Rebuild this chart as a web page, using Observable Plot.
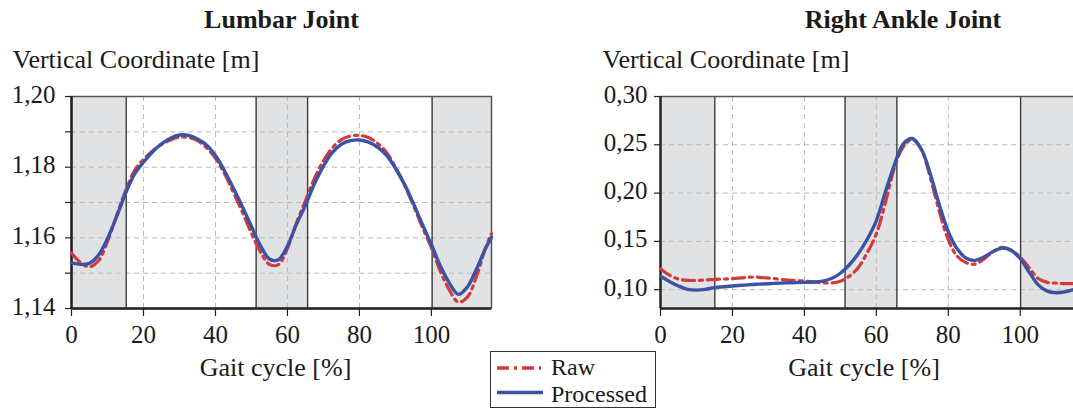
<!DOCTYPE html>
<html><head><meta charset="utf-8">
<script src="https://cdn.jsdelivr.net/npm/d3@7"></script>
<script src="https://cdn.jsdelivr.net/npm/@observablehq/plot@0.6"></script>
<style>
body{margin:0;background:#fff;}
#wrap{position:relative;width:1073px;height:409px;overflow:hidden;font-family:"Liberation Serif","Times New Roman",serif;color:#1a1a1a;background:#fff;}
#wrap > svg{position:absolute;top:0;}
#legend{position:absolute;left:490px;top:351px;width:166px;height:57px;border:1.5px solid #333;box-sizing:border-box;background:#fff;}
#legend svg{position:absolute;left:0;top:0;}
</style></head><body><div id="wrap"></div>
<script>
// ---------- Lumbar Joint ----------
const lumbarX = [0,2.5,5,7.5,10,12.5,15,17.5,20,22.5,25,27.5,30,32.5,35,37.5,40,42.5,45,47.5,50,52.5,55,57.5,60,62.5,65,67.5,70,72.5,75,77.5,80,82.5,85,87.5,90,92.5,95,97.5,100,102.5,105,107.5,110,112.5,115,116.7];
const lumbarRaw = [1.1557,1.1530,1.1518,1.1535,1.1590,1.1662,1.1732,1.1790,1.1822,1.1846,1.1864,1.1877,1.1885,1.1884,1.1875,1.1855,1.1825,1.1782,1.1728,1.1672,1.1613,1.1560,1.1525,1.1524,1.1570,1.1642,1.1705,1.1768,1.1818,1.1855,1.1878,1.1888,1.1890,1.1884,1.1868,1.1842,1.1800,1.1750,1.1692,1.1630,1.1572,1.1505,1.1452,1.1418,1.1432,1.1490,1.1570,1.1612];
const lumbarProc = [1.1529,1.1525,1.1528,1.1551,1.1598,1.1659,1.1725,1.1780,1.1814,1.1843,1.1866,1.1882,1.1891,1.1890,1.1880,1.1863,1.1833,1.1790,1.1740,1.1688,1.1632,1.1578,1.1540,1.1538,1.1577,1.1638,1.1692,1.1753,1.1803,1.1842,1.1865,1.1875,1.1877,1.1871,1.1857,1.1834,1.1797,1.1752,1.1697,1.1638,1.1581,1.1520,1.1472,1.1440,1.1461,1.1511,1.1569,1.1602];
const lumbarBandStart = [0, 51.3, 100.2];
const lumbarBandEnd = [15.2, 65.6, 116.7];
const lumbarXDomain = [0, 116.7];
const lumbarYDomain = [1.14, 1.20];
const lumbarYGrid = [1.15, 1.16, 1.17, 1.18, 1.19];
const lumbarYTicks = [1.14, 1.15, 1.16, 1.17, 1.18, 1.19, 1.20];
const lumbarYLabelVals = [1.14, 1.16, 1.18, 1.20];
const lumbarYLabels = ["1,14", "1,16", "1,18", "1,20"];

// ---------- Right Ankle Joint ----------
const ankleX = [0,2.5,5,7.5,10,12.5,15,17.5,20,22.5,25,27.5,30,32.5,35,37.5,40,42.5,45,47.5,50,52.5,55,57.5,60,62.5,65,67.5,70,72.5,75,77.5,80,82.5,85,87.5,90,92.5,95,97.5,100,102.5,105,107.5,110,112.5,114.8];
const ankleRaw = [0.1217,0.1150,0.1110,0.1096,0.1096,0.1100,0.1107,0.1110,0.1114,0.1122,0.1130,0.1128,0.1120,0.1110,0.1101,0.1095,0.1089,0.1080,0.1071,0.1070,0.1088,0.1140,0.1230,0.1385,0.1578,0.1900,0.2260,0.2480,0.2555,0.2450,0.2160,0.1810,0.1515,0.1345,0.1278,0.1265,0.1320,0.1395,0.1438,0.1410,0.1337,0.1225,0.1115,0.1075,0.1068,0.1062,0.1062];
const ankleProc = [0.1138,0.1085,0.1038,0.1003,0.0995,0.1003,0.1021,0.1030,0.1038,0.1045,0.1052,0.1057,0.1062,0.1066,0.1070,0.1073,0.1076,0.1080,0.1089,0.1116,0.1170,0.1258,0.1375,0.1525,0.1716,0.2010,0.2290,0.2510,0.2565,0.2455,0.2198,0.1880,0.1600,0.1420,0.1325,0.1303,0.1340,0.1395,0.1432,0.1405,0.1320,0.1180,0.1050,0.0985,0.0968,0.0978,0.1000];
const ankleBandStart = [0, 51.3, 100.1];
const ankleBandEnd = [15.1, 65.7, 114.8];
const ankleXDomain = [0, 114.8];
const ankleYDomain = [0.0805, 0.30];
const ankleYGrid = [0.10, 0.15, 0.20, 0.25];
const ankleYTicks = [0.10, 0.15, 0.20, 0.25, 0.30];
const ankleYLabelVals = [0.10, 0.15, 0.20, 0.25, 0.30];
const ankleYLabels = ["0,10", "0,15", "0,20", "0,25", "0,30"];

// ---------- shared ----------
const xTicks = [0, 20, 40, 60, 80, 100];
const xTickLabels = ["0", "20", "40", "60", "80", "100"];
const xGrid = [20, 40, 60, 80];
const seriesNames = ["Raw", "Processed"];
const titles = ["Lumbar Joint", "Right Ankle Joint"];
const yLabel = "Vertical Coordinate [m]";
const xLabel = "Gait cycle [%]";

const RED = "#d5393c", BLUE = "#3a53a5", BAND = "#e1e2e4", GRID = "#b9b9b9";
const FONT = '"Liberation Serif","Times New Roman",serif';

function panel(cfg) {
  const rows = cfg.x.map((x, i) => ({x, raw: cfg.raw[i], proc: cfg.proc[i]}));
  const bands = cfg.bandStart.map((s, i) => ({s, e: cfg.bandEnd[i]}));
  const edges = [];
  cfg.bandStart.forEach((s, i) => { if (s > cfg.xDomain[0]) edges.push(s); if (cfg.bandEnd[i] < cfg.xDomain[1]) edges.push(cfg.bandEnd[i]); });
  const yfmt = d => cfg.yLabels[cfg.yLabelVals.indexOf(d)];
  const xfmt = d => xTickLabels[xTicks.indexOf(d)];
  const marks = [
    Plot.rect(bands, {x1: "s", x2: "e", fill: BAND}),
    Plot.ruleX(xGrid, {stroke: GRID, strokeWidth: 1, strokeDasharray: "5,4"}),
    Plot.ruleY(cfg.yGrid, {stroke: GRID, strokeWidth: 1, strokeDasharray: "5,4"}),
    Plot.ruleX(edges, {stroke: "#3a3a3a", strokeWidth: 1.4}),
    cfg.fullFrame ? Plot.frame({stroke: "#555", strokeWidth: 1.5}) : Plot.ruleY([cfg.yDomain[1]], {stroke: "#555", strokeWidth: 1.5}),
    Plot.ruleX([cfg.xDomain[0]], {stroke: "#222", strokeWidth: 2.5}),
    Plot.ruleY([cfg.yDomain[0]], {stroke: "#222", strokeWidth: 2.5}),
    Plot.axisX({ticks: xTicks, tickSize: 8, tickPadding: 9, tickFormat: xfmt, fontSize: 25, fontFamily: FONT, stroke: "#222", strokeWidth: 1.2, label: null}),
    Plot.axisY({ticks: cfg.yTicks, tickSize: 6, tickFormat: () => "", stroke: "#222", strokeWidth: 1.2, label: null}),
    Plot.axisY({ticks: cfg.yLabelVals, tickSize: 0, tickPadding: cfg.yPad, tickFormat: yfmt, fontSize: 25, fontFamily: FONT, dy: -2, label: null}),
    Plot.line(rows, {x: "x", y: "raw", stroke: RED, strokeWidth: 3.2, strokeDasharray: "12,5,3,5", curve: "catmull-rom"}),
    Plot.line(rows, {x: "x", y: "proc", stroke: BLUE, strokeWidth: 3.4, curve: "catmull-rom"}),
    Plot.text([cfg.title], {text: d => d, frameAnchor: "top", lineAnchor: "bottom", dy: -69, dx: cfg.titleDx, fontWeight: "bold", fontSize: 26, fontFamily: FONT}),
    Plot.text([yLabel], {text: d => d, frameAnchor: "top-left", textAnchor: "start", lineAnchor: "bottom", dy: -29, dx: cfg.yLabelDx, fontSize: 26, fontFamily: FONT}),
    Plot.text([xLabel], {text: d => d, frameAnchor: "bottom", lineAnchor: "bottom", dy: 67, dx: cfg.xLabelDx, fontSize: 26, fontFamily: FONT})
  ];
  const svg = Plot.plot({
    width: cfg.width, height: 409,
    marginLeft: cfg.ml, marginRight: cfg.mr, marginTop: 96, marginBottom: 101,
    x: {domain: cfg.xDomain, label: null},
    y: {domain: cfg.yDomain, label: null},
    style: {fontFamily: FONT, fontSize: "25px", color: "#1a1a1a", background: "transparent", overflow: "visible"},
    marks
  });
  svg.style.left = cfg.left + "px";
  return svg;
}

const wrap = document.getElementById("wrap");
wrap.appendChild(panel({
  x: lumbarX, raw: lumbarRaw, proc: lumbarProc, bandStart: lumbarBandStart, bandEnd: lumbarBandEnd,
  xDomain: lumbarXDomain, yDomain: lumbarYDomain, yGrid: lumbarYGrid, yTicks: lumbarYTicks,
  yLabelVals: lumbarYLabelVals, yLabels: lumbarYLabels, title: titles[0],
  width: 545, left: 0, ml: 71, mr: 54, fullFrame: true, yPad: 16, titleDx: 0, yLabelDx: -59, xLabelDx: -6
}));
wrap.appendChild(panel({
  x: ankleX, raw: ankleRaw, proc: ankleProc, bandStart: ankleBandStart, bandEnd: ankleBandEnd,
  xDomain: ankleXDomain, yDomain: ankleYDomain, yGrid: ankleYGrid, yTicks: ankleYTicks,
  yLabelVals: ankleYLabelVals, yLabels: ankleYLabels, title: titles[1],
  width: 528, left: 545, ml: 115, mr: 0, fullFrame: false, yPad: 13, titleDx: 36, yLabelDx: -58, xLabelDx: -3
}));

// legend
const legend = document.createElement("div");
legend.id = "legend";
const ns = "http://www.w3.org/2000/svg";
const lsvg = document.createElementNS(ns, "svg");
lsvg.setAttribute("width", 166); lsvg.setAttribute("height", 57);
const specs = [
  {name: seriesNames[0], color: RED, dash: "12,5,3,5", ly: 16, ty: 22.5, x2: 50},
  {name: seriesNames[1], color: BLUE, dash: null, ly: 40.5, ty: 49.5, x2: 52}
];
specs.forEach(s => {
  const ln = document.createElementNS(ns, "line");
  ln.setAttribute("x1", 6); ln.setAttribute("x2", s.x2);
  ln.setAttribute("y1", s.ly); ln.setAttribute("y2", s.ly);
  ln.setAttribute("stroke", s.color); ln.setAttribute("stroke-width", 3.4);
  if (s.dash) ln.setAttribute("stroke-dasharray", s.dash);
  lsvg.appendChild(ln);
  const t = document.createElementNS(ns, "text");
  t.setAttribute("x", 60); t.setAttribute("y", s.ty);
  t.setAttribute("font-family", FONT); t.setAttribute("font-size", 24); t.setAttribute("fill", "#1a1a1a");
  t.textContent = s.name;
  lsvg.appendChild(t);
});
legend.appendChild(lsvg);
wrap.appendChild(legend);
</script>
</body></html>
